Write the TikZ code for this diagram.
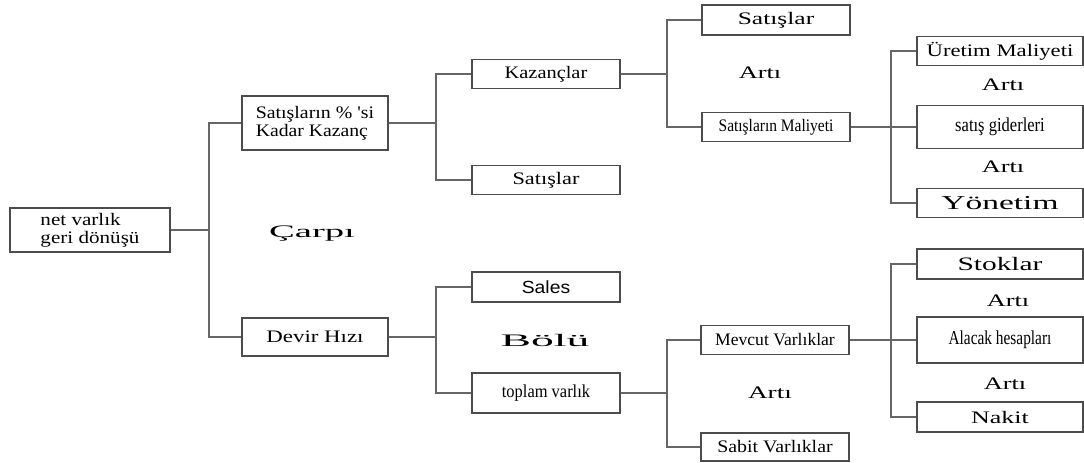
\documentclass[tikz,border=0pt]{standalone}
\usepackage{fontspec}
\setmainfont{Liberation Serif}
\newfontfamily\salesfont{Liberation Sans}
\usepackage{graphicx}
\newcommand{\stretchx}[2]{\scalebox{#1}[1]{#2}}

\begin{document}
\begin{tikzpicture}[x=0.025cm, y=-0.025cm,
	every node/.style={font=\fontsize{12.5}{13}\selectfont, text=black},
	box/.style={draw=black!70, line width=1.2pt, inner sep=0pt, minimum width=148*0.025cm, minimum height=29*0.025cm},
	wbox/.style={box, minimum width=166*0.025cm},
	link/.style={draw=black!60, line width=1.2pt},
	op/.style={inner sep=0pt}]
	\useasboundingbox (0,0) rectangle (1084,462);
	% level 0 and 1
	\node[box, minimum width=160*0.025cm, minimum height=44*0.025cm, align=left] (root) at (90,230) {\stretchx{1.2}{net varlık}\\\stretchx{1.2}{geri dönüşü}};
	\node[box, minimum width=146*0.025cm, minimum height=54*0.025cm, align=left] (kar) at (315,123) {\stretchx{1.13}{Satışların \% \textquotesingle si}\\\stretchx{1.12}{Kadar Kazanç}};
	\node[box, minimum width=146*0.025cm, minimum height=38*0.025cm] (devir) at (315,337) {\stretchx{1.3}{Devir Hızı}};
	\node[op] (carpi) at (312,234) {\stretchx{2.2}{Çarpı}};
	% upper branch
	\node[box] (kazanc) at (546,74) {\stretchx{1.16}{Kazançlar}};
	\node[box] (satis2) at (546,180) {\stretchx{1.27}{Satışlar}};
	\node[box, minimum height=30*0.025cm] (satis1) at (776,20) {\stretchx{1.45}{Satışlar}};
	\node[box] (smal) at (776,127) {\stretchx{0.88}{Satışların Maliyeti}};
	\node[op] (arti1) at (760,73) {\stretchx{1.5}{Artı}};
	\node[wbox] (uretim) at (1000,51) {\stretchx{1.29}{Üretim Maliyeti}};
	\node[wbox, minimum height=43*0.025cm, font=\fontsize{14}{15}\selectfont] (gider) at (1000,127) {\stretchx{0.84}{satış giderleri}};
	\node[wbox, font=\fontsize{14}{15}\selectfont] (yonetim) at (1000,203) {\stretchx{1.7}{Yönetim}};
	\node[op] (arti2) at (1003,85) {\stretchx{1.5}{Artı}};
	\node[op] (arti3) at (1003,167) {\stretchx{1.5}{Artı}};
	% lower branch
	\node[box, minimum height=30*0.025cm] (sales) at (546,287) {\salesfont\stretchx{1.1}{Sales}};
	\node[box, minimum height=40*0.025cm, font=\fontsize{13}{14}\selectfont] (toplam) at (546,393) {\stretchx{0.9}{toplam varlık}};
	\node[op] (bolu) at (545,340) {\stretchx{2.6}{Bölü}};
	\node[box] (mevcut) at (775,340) {\stretchx{1.0}{Mevcut Varlıklar}};
	\node[box, minimum height=28*0.025cm] (sabit) at (775,447) {\stretchx{1.13}{Sabit Varlıklar}};
	\node[op] (arti4) at (770,393) {\stretchx{1.55}{Artı}};
	\node[wbox, minimum height=30*0.025cm, font=\fontsize{13.5}{14}\selectfont] (stok) at (1000,264) {\stretchx{1.55}{Stoklar}};
	\node[wbox, minimum height=46*0.025cm, font=\fontsize{14}{15}\selectfont] (alacak) at (1000,340) {\stretchx{0.78}{Alacak hesapları}};
	\node[wbox, minimum height=30*0.025cm] (nakit) at (1000,417) {\stretchx{1.48}{Nakit}};
	\node[op] (arti5) at (1008,301) {\stretchx{1.5}{Artı}};
	\node[op] (arti6) at (1005,384) {\stretchx{1.5}{Artı}};
	% connectors
	\draw[link] (root.east) -- ++(38,0) coordinate (j0);
	\draw[link] (kar.west) -| (j0) |- (devir.west);
	\draw[link] (kar.east) -- ++(47,0) coordinate (j1);
	\draw[link] (kazanc.west) -| (j1) |- (satis2.west);
	\draw[link] (kazanc.east) -- ++(46,0) coordinate (j2);
	\draw[link] (satis1.west) -| (j2) |- (smal.west);
	\draw[link] (smal.east) -- ++(40,0) coordinate (j3);
	\draw[link] (uretim.west) -| (j3) |- (yonetim.west);
	\draw[link] (j3) -- (gider.west);
	\draw[link] (devir.east) -- ++(47,0) coordinate (j4);
	\draw[link] (sales.west) -| (j4) |- (toplam.west);
	\draw[link] (toplam.east) -- ++(46,0) coordinate (j5);
	\draw[link] (mevcut.west) -| (j5) |- (sabit.west);
	\draw[link] (mevcut.east) -- ++(41,0) coordinate (j6);
	\draw[link] (stok.west) -| (j6) |- (nakit.west);
	\draw[link] (j6) -- (alacak.west);
\end{tikzpicture}
\end{document}
